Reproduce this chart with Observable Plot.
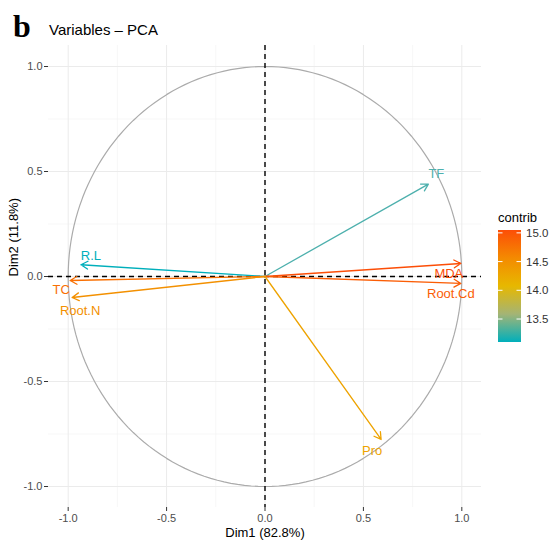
<!DOCTYPE html>
<html><head><meta charset="utf-8">
<script src="https://cdn.jsdelivr.net/npm/d3@7"></script>
<script src="https://cdn.jsdelivr.net/npm/@observablehq/plot@0.6"></script>
<style>
body{margin:0;background:#fff;}
#wrap{position:relative;width:551px;height:542px;}
</style></head><body><div id="wrap"></div>
<script>
// ---- data ----
const variables = ["TF", "MDA", "Root.Cd", "R.L", "TC", "Root.N", "Pro"];
const dim1 = [0.83, 0.995, 0.995, -0.935, -0.99, -0.98, 0.59];
const dim2 = [0.44, 0.062, -0.033, 0.056, -0.019, -0.10, -0.776];
const contrib = [13.2, 15.05, 14.95, 13.1, 14.8, 14.5, 14.3];
const majorTicks = [-1, -0.5, 0, 0.5, 1];
const minorTicks = [-0.75, -0.25, 0.25, 0.75];
const legendTicks = [13.5, 14.0, 14.5, 15.0];
const gradientColors = ["#00AFBB", "#E7B800", "#FC4E07"];
const xLabel = "Dim1 (82.8%)";
const yLabel = "Dim2 (11.8%)";
const title = "Variables \u2013 PCA";
const panelTag = "b";

// label nudges (pixels), styling only
const nudge = {"TF":[8,-10], "MDA":[-12,10], "Root.Cd":[-10,10], "R.L":[10,-9], "TC":[-9,9], "Root.N":[8,13], "Pro":[-9,11]};

const rows = variables.map((v, i) => ({name: v, x: dim1[i], y: dim2[i], contrib: contrib[i]}));
const [lo, hi] = d3.extent(contrib);
const mid = (lo + hi) / 2;

// unit circle guide
const circle = d3.range(0, 361, 2).map(a => ({x: Math.cos(a * Math.PI / 180), y: Math.sin(a * Math.PI / 180)}));

const font = "'Liberation Sans', Arial, sans-serif";
const fmt = d => (d < 0 ? "-" : "") + Math.abs(d).toFixed(1);

const chart = Plot.plot({
  width: 551, height: 542,
  marginLeft: 48, marginRight: 70, marginTop: 45, marginBottom: 35,
  x: {domain: [-1.1, 1.1]},
  y: {domain: [-1.1, 1.1]},
  color: {type: "linear", domain: [lo, mid, hi], range: gradientColors, interpolate: "lab"},
  style: {fontFamily: font, fontSize: "11px", background: "white", color: "#4d4d4d"},
  marks: [
    Plot.ruleX(minorTicks, {stroke: "#f2f2f2", strokeWidth: 0.6}),
    Plot.ruleY(minorTicks, {stroke: "#f2f2f2", strokeWidth: 0.6}),
    Plot.ruleX(majorTicks, {stroke: "#ebebeb", strokeWidth: 1}),
    Plot.ruleY(majorTicks, {stroke: "#ebebeb", strokeWidth: 1}),
    Plot.line(circle, {x: "x", y: "y", stroke: "#ababab", strokeWidth: 1.2}),
    Plot.ruleX([0], {stroke: "#000", strokeWidth: 1.4, strokeDasharray: "5,4"}),
    Plot.ruleY([0], {stroke: "#000", strokeWidth: 1.4, strokeDasharray: "5,4"}),
    Plot.arrow(rows, {x1: () => 0, y1: () => 0, x2: "x", y2: "y", stroke: "contrib", strokeWidth: 1.3, headLength: 9, headAngle: 60}),
    ...rows.map(r => Plot.text([r], {x: "x", y: "y", text: "name", fill: "contrib", fontSize: 13, dx: nudge[r.name][0], dy: nudge[r.name][1]})),
    Plot.axisX(majorTicks, {tickFormat: fmt, tickSize: 4, stroke: "#333", fill: "#4d4d4d", label: null, tickPadding: 3}),
    Plot.axisY(majorTicks, {tickFormat: fmt, tickSize: 4, stroke: "#333", fill: "#4d4d4d", label: null, tickPadding: 2}),
    Plot.text([xLabel], {frameAnchor: "bottom", dy: 29, fontSize: 13, fill: "#000"}),
    Plot.text([yLabel], {frameAnchor: "left", dx: -35, rotate: -90, fontSize: 13, fill: "#000"})
  ]
});

document.getElementById("wrap").appendChild(chart);

// ---- title and legend ----
const svg = d3.select(chart);
svg.append("text").attr("x", 13).attr("y", 37).attr("text-anchor", "start").attr("font-family", "'Liberation Serif', 'Times New Roman', serif")
  .attr("font-weight", "bold").attr("font-size", 32).attr("fill", "#000").text(panelTag);
svg.append("text").attr("x", 49).attr("y", 35).attr("text-anchor", "start").attr("font-family", font)
  .attr("font-size", 15).attr("fill", "#000").text(title);

const lg = svg.append("g").attr("text-anchor", "start");
const barX = 498, barW = 23, barTop = 230, barBottom = 342;
const ly = d3.scaleLinear().domain([lo, hi]).range([barBottom, barTop]);
const lc = d3.scaleLinear().domain([lo, mid, hi]).range(gradientColors).interpolate(d3.interpolateLab);
const defs = svg.append("defs");
const grad = defs.append("linearGradient").attr("id", "cgrad").attr("x1", 0).attr("x2", 0).attr("y1", 1).attr("y2", 0);
[0, 0.25, 0.5, 0.75, 1].forEach(t => grad.append("stop").attr("offset", t).attr("stop-color", lc(lo + t * (hi - lo))));
lg.append("rect").attr("x", barX).attr("y", barTop).attr("width", barW).attr("height", barBottom - barTop).attr("fill", "url(#cgrad)");
legendTicks.forEach(t => {
  const yy = ly(t);
  lg.append("line").attr("x1", barX).attr("x2", barX + 4.5).attr("y1", yy).attr("y2", yy).attr("stroke", "white").attr("stroke-width", 1);
  lg.append("line").attr("x1", barX + barW - 4.5).attr("x2", barX + barW).attr("y1", yy).attr("y2", yy).attr("stroke", "white").attr("stroke-width", 1);
  lg.append("text").attr("x", barX + barW + 5).attr("y", yy).attr("dy", "0.35em").attr("font-family", font)
    .attr("font-size", 11.5).attr("fill", "#333").text(t.toFixed(1));
});
lg.append("text").attr("x", barX).attr("y", 222).attr("font-family", font).attr("font-size", 13).attr("fill", "#000").text("contrib");
</script>
</body></html>
